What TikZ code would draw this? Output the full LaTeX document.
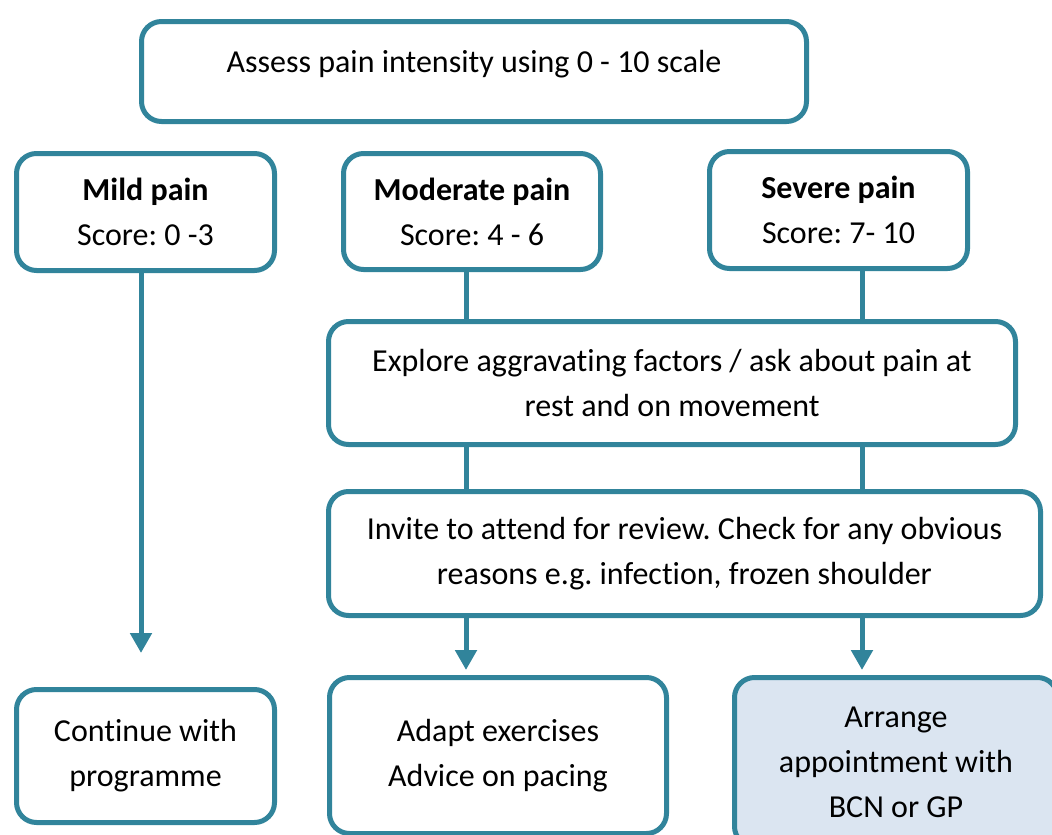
\documentclass[tikz,border=0pt]{standalone}
\usepackage{fontspec}
\setmainfont[Ligatures=NoCommon]{Carlito}
\usetikzlibrary{arrows.meta}
\definecolor{teal}{RGB}{49,132,155}
\definecolor{paleblue}{RGB}{219,229,241}
\frenchspacing
\tikzset{
  box/.style={draw=teal, line width=5pt, rounded corners=20pt, fill=white,
    align=center, inner sep=0pt, font=\fontsize{32}{45}\selectfont},
  link/.style={draw=teal, line width=5pt},
  arr/.style={link, -{Triangle[width=21pt,length=20pt]}},
}
\begin{document}
\begin{tikzpicture}[x=1pt, y=-1pt]
\useasboundingbox (0,0) rectangle (1052,835);
\clip (0,0) rectangle (1052,835);

% connector columns
\coordinate (colL) at (141,0);
\coordinate (colM) at (466,0);
\coordinate (colR) at (862,0);

% boxes
\node[box, minimum width=665pt, minimum height=100pt,
      text height=20pt, text depth=18pt] (assess) at (474,71.5)
  {Assess pain intensity using 0 - 10 scale};
\node[box, minimum width=258pt, minimum height=117pt] (mild) at (145.5,212)
  {\textbf{Mild pain}\\Score: 0 -3};
\node[box, minimum width=257pt, minimum height=116pt] (mod) at (472,211.5)
  {\textbf{Moderate pain}\\Score: 4 - 6};
\node[box, minimum width=258pt, minimum height=117pt] (sev) at (838.5,210)
  {\textbf{Severe pain}\\Score: 7- 10};
\node[box, minimum width=687pt, minimum height=123pt] (explore) at (672,383)
  {Explore aggravating factors / ask about pain at\\rest and on movement};
\node[box, minimum width=712pt, minimum height=124pt] (invite) at (684.5,553.5)
  {Invite to attend for review. Check for any obvious\\reasons e.g. infection, frozen shoulder};
\node[box, minimum width=258pt, minimum height=133pt] (cont) at (145.5,756)
  {Continue with\\programme};
\node[box, minimum width=337pt, minimum height=156pt] (adapt) at (498,755.5)
  {Adapt exercises\\Advice on pacing};
\node[box, fill=paleblue, minimum width=323pt, minimum height=169pt] (arrange) at (896,762)
  {Arrange\\appointment with\\BCN or GP};

% connectors
\draw[arr, shorten >=34pt] (mild.south -| colL) -- (cont.north -| colL);
\draw[link] (mod.south -| colM) -- (explore.north -| colM);
\draw[link] (sev.south -| colR) -- (explore.north -| colR);
\draw[link] (explore.south -| colM) -- (invite.north -| colM);
\draw[link] (explore.south -| colR) -- (invite.north -| colR);
\draw[arr, shorten >=5pt] (invite.south -| colM) -- (adapt.north -| colM);
\draw[arr, shorten >=5pt] (invite.south -| colR) -- (arrange.north -| colR);
\end{tikzpicture}
\end{document}
